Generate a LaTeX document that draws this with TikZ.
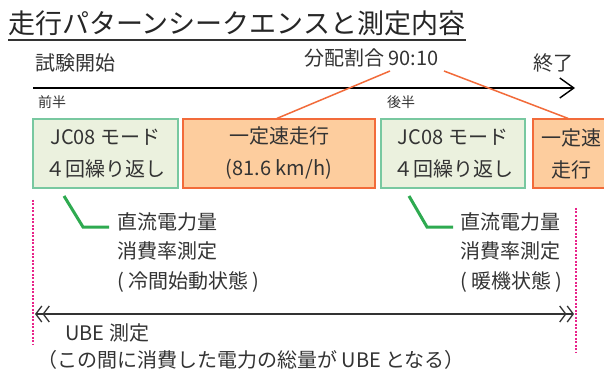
\documentclass[tikz,border=0pt]{standalone}
\usepackage{fontspec}
\setmainfont{Noto Sans CJK JP}
\usetikzlibrary{arrows.meta}
\definecolor{txt}{HTML}{333333}
\definecolor{gfill}{HTML}{EBF1DE}
\definecolor{gline}{HTML}{78C8A0}
\definecolor{ofill}{HTML}{FDCD9E}
\definecolor{oline}{HTML}{F26B3A}
\definecolor{callg}{HTML}{2EAA50}
\definecolor{pink}{HTML}{E8248A}
\tikzset{
  lbl/.style={anchor=base west,inner sep=0pt,text=txt,font=\fontsize{#1}{#1}\selectfont},
  gbox/.style={draw=gline,fill=gfill,line width=1.2pt,inner sep=0pt,align=center,text=txt,
    font=\fontsize{20}{32}\selectfont},
  obox/.style={draw=oline,fill=ofill,line width=1.2pt,inner sep=0pt,align=center,text=txt,
    font=\fontsize{20}{32}\selectfont},
  orangeline/.style={draw=oline,line width=1.5pt},
  callout/.style={draw=callg,line width=3pt},
  pinkdash/.style={draw=pink,line width=1.2pt,dash pattern=on 2pt off 1.5pt},
  note/.style={anchor=base west,inner sep=0pt,text=txt,align=left,
    font=\fontsize{20}{29.5}\selectfont}
}
\begin{document}
\begin{tikzpicture}[x=1pt,y=-1pt]
\clip (0,0) rectangle (604,371);
\fill[white] (0,0) rectangle (604,371);
% title
\node[lbl=27,text=black!85] (title) at (8,34) {走行パターンシークエンスと測定内容};
\draw[line width=1.2pt,black!80] (8,40) -- (466,40);
% axis
\coordinate (axs) at (33,88);
\coordinate (axe) at (575,88);
\draw[line width=1.4pt,-{Straight Barb[length=14pt,width=20pt,line width=1.4pt]}] (axs) -- (axe);
\node[lbl=20] (start) at (35,71) {試験開始};
\node[lbl=20] (ratio) at (304,66) {分配割合 90:10};
\node[lbl=20] (end) at (533,71) {終了};
\node[lbl=14] (first) at (38,108) {前半};
\node[lbl=14] (second) at (387,108) {後半};
% boxes
\node[gbox,minimum width=145pt,minimum height=69pt] (b1) at (105.5,153.5) {JC08 モード\\４回繰り返し};
\node[obox,minimum width=192pt,minimum height=69pt] (b2) at (279,153.5) {一定速走行\\(81.6 km/h)};
\node[gbox,minimum width=144pt,minimum height=69pt] (b3) at (453,153.5) {JC08 モード\\４回繰り返し};
\node[obox,minimum width=76pt,minimum height=69pt] (b4) at (571,153.5) {一定速\\走行};
% orange lines
\coordinate (r1) at (390,71);
\coordinate (r2) at (444,71);
\draw[orangeline] (r1) -- (b2.north -| 277,0);
\draw[orangeline] (r2) -- (b4.north -| 568,0);
% callouts
\coordinate (c1a) at (64,196);
\coordinate (c1b) at (83,227);
\coordinate (c1c) at (109,227);
\draw[callout] (c1a) -- (c1b) -- (c1c);
\coordinate (c2a) at (409,196);
\coordinate (c2b) at (427,227);
\coordinate (c2c) at (453,227);
\draw[callout] (c2a) -- (c2b) -- (c2c);
\node[note] (n1) at (117,288) {直流電力量\\消費率測定\\( 冷間始動状態 )};
\node[note] (n2) at (460,288) {直流電力量\\消費率測定\\( 暖機状態 )};
% pink dashed
\coordinate (p1t) at (33,200);
\coordinate (p1b) at (33,344);
\coordinate (p2t) at (576,208);
\coordinate (p2b) at (576,353);
\draw[pinkdash] (p1t) -- (p1b);
\draw[pinkdash] (p2t) -- (p2b);
% UBE arrow
\coordinate (ua) at (35,314);
\coordinate (ub) at (574,314);
\draw[line width=1.3pt,txt,{Straight Barb[length=6pt,width=16pt,line width=1.3pt]Straight Barb[length=6pt,width=16pt,line width=1.3pt]}-{Straight Barb[length=6pt,width=16pt,line width=1.3pt]Straight Barb[length=6pt,width=16pt,line width=1.3pt]}] (ua) -- (ub);
\node[lbl=20] (ube) at (65,340) {UBE 測定};
\node[lbl=20] (ubenote) at (37,367) {（この間に消費した電力の総量が UBE となる）};
\end{tikzpicture}
\end{document}
